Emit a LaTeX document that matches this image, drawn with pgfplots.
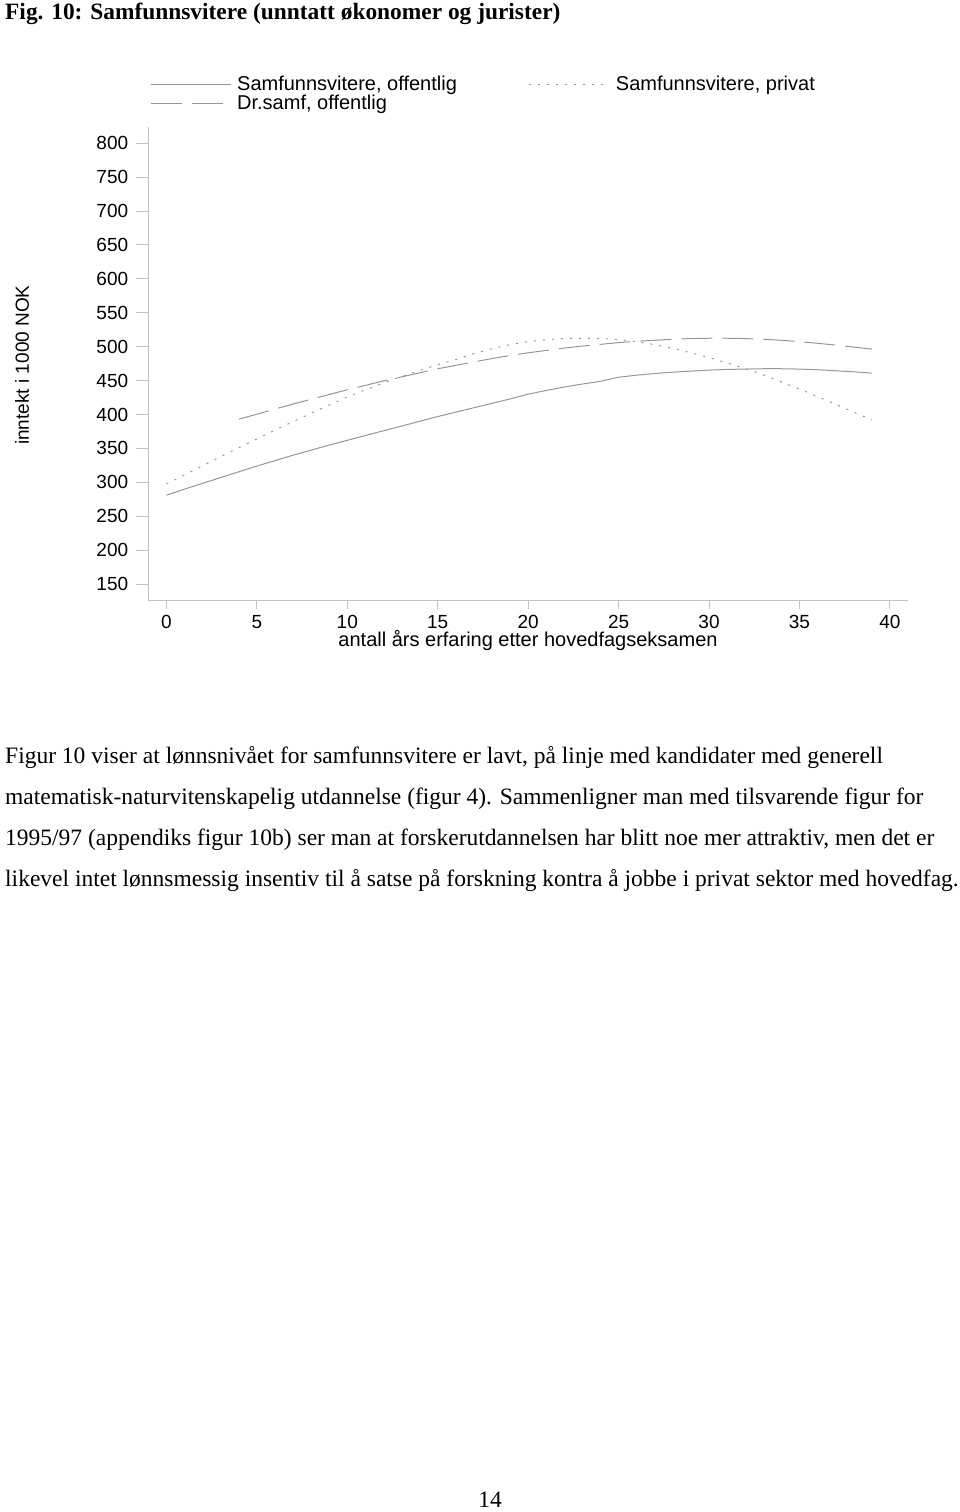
\documentclass[border=0pt]{standalone}
\usepackage{fontspec}
\setmainfont{Liberation Serif}
\newfontfamily\sansf{Liberation Sans}
\usepackage{pgfplots}
\pgfplotsset{compat=1.18}
\definecolor{linegray}{RGB}{150,150,150}
\definecolor{axisgray}{RGB}{195,195,195}
\pgfplotstableread{
x y
0 281
1 290
2 298.5
3 307
4 315.5
5 324
6 332
7 340
8 347.5
9 355
10 362
11 369
12 376
13 383
14 390
15 397
16 403.5
17 410
18 416.5
19 423
20 430
21 435.5
22 440.5
23 445
24 449
25 455
26 458
27 460.5
28 462.5
29 464
30 465.5
31 466.5
32 467
33 467.5
34 467.5
35 467
36 466
37 464.5
38 463
39 461
}\offentlig
\pgfplotstableread{
x y
0 297.5
1 311
2 324.5
3 338
4 351
5 364
6 377
7 389.5
8 402
9 414
10 426
11 436.5
12 446.5
13 456
14 465
15 473.5
16 481
17 490
18 497
19 503
20 507.5
21 510.5
22 512
23 512.5
24 512
25 510.5
26 507.5
27 503
28 497.5
29 491
30 484
31 476
32 468
33 458.5
34 448
35 437.5
36 426.5
37 415
38 403.5
39 392
}\privat
\pgfplotstableread{
x y
4 393
5 400.5
6 408
7 415.5
8 422.5
9 429.5
10 436.5
11 443
12 449.5
13 455.5
14 461.5
15 467.5
16 472.5
17 477.5
18 482.5
19 487
20 491
21 494.5
22 498
23 501
24 503.5
25 506
26 508
27 509.5
28 511
29 512
30 512.5
31 512.5
32 512
33 511
34 509.5
35 507.5
36 505
37 502.5
38 499.5
39 496.5
}\drsamf
\begin{document}
\begin{tikzpicture}
\useasboundingbox (0pt,0pt) rectangle (960pt,1512pt);
\node[anchor=base west, inner sep=0pt, font=\bfseries\fontsize{23.4}{23.4}\selectfont] at (5pt,1492pt) {Fig. 10: Samfunnsvitere (unntatt økonomer og jurister)};
\begin{axis}[
  at={(148pt,911pt)}, anchor=south west,
  scale only axis, width=760pt, height=473.7pt,
  xmin=-1.02, xmax=41, ymin=125, ymax=823.6,
  axis x line*=bottom, axis y line*=left,
  axis line style={axisgray, line width=1pt, -},
  tick align=outside,
  xtick={0,5,...,40}, ytick={150,200,...,800},
  xtick style={axisgray, line width=1pt, /pgfplots/major tick length=8pt},
  ytick style={axisgray, line width=1pt, /pgfplots/major tick length=12pt},
  minor tick num=0,
  /pgf/number format/assume math mode=true,
  /pgf/number format/1000 sep={},
  ticklabel style={font=\sansf\fontsize{19}{19}\selectfont, text=black},
  xticklabel style={anchor=north, text height=13.5pt, text depth=0pt, yshift=-6pt},
  yticklabel style={anchor=east, xshift=-12pt},
  xlabel={antall års erfaring etter hovedfagseksamen},
  ylabel={inntekt i 1000 NOK},
  every axis x label/.append style={at={(axis description cs:0.5,-0.0844)}, anchor=center, font=\sansf\fontsize{20}{20}\selectfont},
  every axis y label/.append style={at={(axis description cs:-0.1658,0.498)}, anchor=center, font=\sansf\fontsize{19}{19}\selectfont},
  legend columns=2,
  legend cell align=left,
  legend image code/.code={\draw[#1] (0pt,0pt) -- (80pt,0pt); \path (84pt,0pt);},
  legend style={at={(axis description cs:0.0026,1.112)}, anchor=north west, draw=none, fill=none,
    font=\sansf\fontsize{20}{20}\selectfont, inner sep=0pt, row sep=-1pt,
    /tikz/every even column/.append style={column sep=70pt}},
  clip=false,
]
\addplot[linegray, line width=1pt] table[x=x,y=y] {\offentlig};
\addlegendentry{Samfunnsvitere, offentlig}
\addplot[linegray, line width=1pt, dash pattern=on 2pt off 7pt] table[x=x,y=y] {\privat};
\addlegendentry{Samfunnsvitere, privat}
\addplot[linegray, line width=1pt, dash pattern=on 31pt off 10pt] table[x=x,y=y] {\drsamf};
\addlegendentry{Dr.samf, offentlig}
\end{axis}
\begin{scope}[every node/.style={anchor=base west, inner sep=0pt, font=\fontsize{23.5}{23.5}\selectfont}]
\node at (5pt,748pt) {Figur 10 viser at lønnsnivået for samfunnsvitere er lavt, på linje med kandidater med generell};
\node at (5pt,707pt) {matematisk-naturvitenskapelig utdannelse (figur 4). Sammenligner man med tilsvarende figur for};
\node at (5pt,666pt) {1995/97 (appendiks figur 10b) ser man at forskerutdannelsen har blitt noe mer attraktiv, men det er};
\node at (5pt,625pt) {likevel intet lønnsmessig insentiv til å satse på forskning kontra å jobbe i privat sektor med hovedfag.};
\node[anchor=base] at (490pt,5pt) {14};
\end{scope}
\end{tikzpicture}
\end{document}
